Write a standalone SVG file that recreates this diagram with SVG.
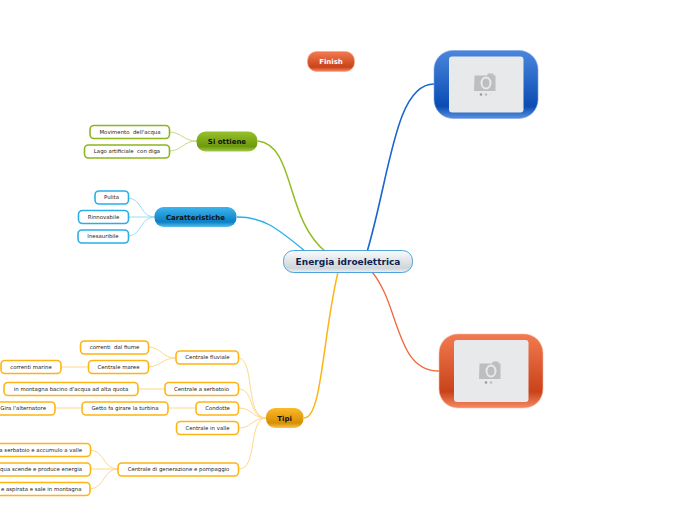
<svg xmlns="http://www.w3.org/2000/svg" width="696" height="520" viewBox="0 0 696 520">
<style>
text{font-family:"DejaVu Sans",Verdana,sans-serif;text-anchor:middle;white-space:pre}
.s{font-size:5.4px;fill:#222}
.b{font-size:7px;font-weight:bold;fill:#111}
.leaf{fill:#fff;stroke-width:1.6}
.o{stroke:#fdb515}.g{stroke:#8db51e}.c{stroke:#29aee8}
.lo,.lg,.lc{fill:none;stroke-width:1}
.lo{stroke:#fed98a}.lg{stroke:#c5dc85}.lc{stroke:#9bdcf6}
</style>
<defs>
<linearGradient id="gg" x1="0" y1="0" x2="0" y2="1"><stop offset="0" stop-color="#97c12c"/><stop offset=".75" stop-color="#6c9a0c"/><stop offset="1" stop-color="#a5cb4a"/></linearGradient>
<linearGradient id="gc" x1="0" y1="0" x2="0" y2="1"><stop offset="0" stop-color="#3db5ee"/><stop offset=".75" stop-color="#0a7fc4"/><stop offset="1" stop-color="#5cc0ee"/></linearGradient>
<linearGradient id="go" x1="0" y1="0" x2="0" y2="1"><stop offset="0" stop-color="#fcb928"/><stop offset=".75" stop-color="#d58f05"/><stop offset="1" stop-color="#fcc44a"/></linearGradient>
<linearGradient id="gr" x1="0" y1="0" x2="0" y2="1"><stop offset="0" stop-color="#f27a50"/><stop offset=".78" stop-color="#c9431a"/><stop offset="1" stop-color="#f58a63"/></linearGradient>
<linearGradient id="gb" x1="0" y1="0" x2="0" y2="1"><stop offset="0" stop-color="#4a86dc"/><stop offset=".82" stop-color="#0a4cb4"/><stop offset="1" stop-color="#5a90de"/></linearGradient>
<linearGradient id="gw" x1="0" y1="0" x2="0" y2="1"><stop offset="0" stop-color="#fafbfc"/><stop offset=".8" stop-color="#cfd5d9"/><stop offset="1" stop-color="#eef1f3"/></linearGradient>
<g id="cam"><path d="M-11.500-6.500h12.500l1-2h5l1 2h1.500v15.500h-21.500z" fill="#bdbec0"/><ellipse cx="0" cy="1" rx="4.500" ry="5.500" fill="none" stroke="#e8e9eb" stroke-width="2"/><circle cx="-5" cy="12.500" r="1.300" fill="#9a9b9e"/><circle cx="0" cy="12.500" r="1.300" fill="#bdbec0"/><circle cx="5" cy="12.500" r="1.300" fill="#e4e5e7"/></g>
</defs>
<g id="connectors">
<path d="M258 141C295 145 285 220 326 252" fill="none" stroke="#94bd24" stroke-width="1.500"/>
<path d="M237 217C262 217 275 226 306 252" fill="none" stroke="#29aee8" stroke-width="1.400"/>
<path d="M434 84C395 84 390 175 367 252" fill="none" stroke="#1a66d0" stroke-width="1.600"/>
<path d="M439 371C395 371 400 305 372 272" fill="none" stroke="#f2673a" stroke-width="1.300"/>
<path d="M304 418C322 418 322 340 338 272" fill="none" stroke="#fdb515" stroke-width="1.500"/>
<path class="lg" d="M170 132C183 133 183 141 197 141M170 151C183 150 183 141 197 141"/>
<path class="lc" d="M129 198C143 200 140 217 155 217M129 217H155M129 236C143 234 140 217 155 217"/>
<path class="lo" d="M239 358C255 360 245 418 266 418M239 389C255 390 248 418 266 418M239 408C252 408 252 418 266 418M239 428C252 428 252 418 266 418M239 469C258 469 248 418 266 418"/>
<path class="lo" d="M149 347C162 348 162 358 176 358M148 367C162 366 162 358 176 358M61 367H88M138 389H165M168 408H196M55 408H82"/>
<path class="lo" d="M90 450C105 451 103 469 118 469M90 469H118M90 489C105 488 103 469 118 469"/>
</g>
<g id="finish"><rect x="307.500" y="51.500" width="47" height="20" rx="9" fill="url(#gr)" stroke="#f8a285" stroke-width=".6"/><text x="331" y="64.200" style="font-size:7px;font-weight:bold;fill:#fff">Finish</text></g>
<g id="foto-blu"><rect x="434" y="50.500" width="104" height="68" rx="19" fill="url(#gb)" stroke="#7aa5e5" stroke-width=".6"/><rect x="449" y="56.500" width="74.500" height="56" rx="3" fill="#e8e9eb"/><use href="#cam" x="486" y="82"/></g>
<g id="foto-rossa"><rect x="439" y="334" width="104" height="74" rx="19" fill="url(#gr)" stroke="#f8b9a2" stroke-width=".6"/><rect x="454" y="340" width="74.500" height="62" rx="3" fill="#e8e9eb"/><use href="#cam" x="491" y="370"/></g>
<g id="centro"><rect x="283.500" y="250.500" width="129" height="22" rx="10" fill="url(#gw)" stroke="#3a9ad9" stroke-width=".9"/><text x="348" y="265" style="font-size:9px;font-weight:bold;fill:#0d1f4f">Energia idroelettrica</text></g>
<g id="si-ottiene"><rect x="196.500" y="131.500" width="61" height="20" rx="9" fill="url(#gg)"/><text x="227" y="144" class="b">Si ottiene</text></g>
<g id="caratteristiche"><rect x="154.500" y="207" width="82" height="20" rx="9" fill="url(#gc)"/><text x="195.500" y="219.700" class="b">Caratteristiche</text></g>
<g id="tipi"><rect x="266" y="408" width="37.500" height="20" rx="9" fill="url(#go)"/><text x="284.500" y="420.700" class="b">Tipi</text></g>
<g id="movimento"><rect class="leaf g" x="90" y="125.500" width="79.500" height="13" rx="4"/><text class="s" x="130" y="133.800">Movimento  dell'acqua</text></g>
<g id="lago"><rect class="leaf g" x="84.500" y="145" width="85" height="13" rx="4"/><text class="s" x="127" y="153.300">Lago artificiale  con diga</text></g>
<g id="pulita"><rect class="leaf c" x="95" y="191" width="33.500" height="13" rx="4"/><text class="s" x="111.500" y="199.300">Pulita</text></g>
<g id="rinnovabile"><rect class="leaf c" x="78.500" y="210.500" width="50" height="13" rx="4"/><text class="s" x="103.500" y="218.800">Rinnovabile</text></g>
<g id="inesauribile"><rect class="leaf c" x="78" y="230" width="50.500" height="13" rx="4"/><text class="s" x="103" y="238.300">Inesauribile</text></g>
<g id="fiume"><rect class="leaf o" x="80.500" y="341" width="68" height="13" rx="4"/><text class="s" x="114.500" y="349.300">correnti  dal fiume</text></g>
<g id="maree"><rect class="leaf o" x="88.500" y="360.500" width="60" height="13" rx="4"/><text class="s" x="118.500" y="368.800">Centrale maree</text></g>
<g id="marine"><rect class="leaf o" x="1" y="360.500" width="60" height="13" rx="4"/><text class="s" x="31" y="368.800">correnti marine</text></g>
<g id="fluviale"><rect class="leaf o" x="176" y="351" width="62.500" height="13" rx="4"/><text class="s" x="207.500" y="359.300">Centrale fluviale</text></g>
<g id="serbatoio"><rect class="leaf o" x="165" y="382.500" width="73.500" height="13" rx="4"/><text class="s" x="201.500" y="390.800">Centrale a serbatoio</text></g>
<g id="montagna"><rect class="leaf o" x="4" y="382.500" width="134" height="13" rx="4"/><text class="s" x="71" y="390.800">in montagna bacino d'acqua ad alta quota</text></g>
<g id="condotte"><rect class="leaf o" x="196" y="402" width="42.500" height="13" rx="4"/><text class="s" x="217.500" y="410.300">Condotte</text></g>
<g id="getto"><rect class="leaf o" x="82" y="402" width="86" height="13" rx="4"/><text class="s" x="125" y="410.300">Getto fa girare la turbina</text></g>
<g id="alternatore"><rect class="leaf o" x="-20" y="402" width="75" height="13" rx="4"/><text class="s" x="46" y="410.300" style="text-anchor:end">Gira l'alternatore</text></g>
<g id="valle"><rect class="leaf o" x="176.500" y="421.500" width="62" height="13" rx="4"/><text class="s" x="207.500" y="429.800">Centrale in valle</text></g>
<g id="pompaggio"><rect class="leaf o" x="118" y="463" width="120.500" height="13" rx="4"/><text class="s" x="178.500" y="471.300">Centrale di generazione e pompaggio</text></g>
<g id="accumulo"><rect class="leaf o" x="-20" y="443.500" width="110.500" height="13" rx="4"/><text class="s" x="82" y="451.800" style="text-anchor:end">a serbatoio e accumulo a valle</text></g>
<g id="acqua"><rect class="leaf o" x="-20" y="463" width="110.500" height="13" rx="4"/><text class="s" x="82" y="471.300" style="text-anchor:end">qua scende e produce energia</text></g>
<g id="aspirata"><rect class="leaf o" x="-20" y="482.500" width="110" height="13" rx="4"/><text class="s" x="81.500" y="490.800" style="text-anchor:end">e aspirata e sale in montagna</text></g>
</svg>
